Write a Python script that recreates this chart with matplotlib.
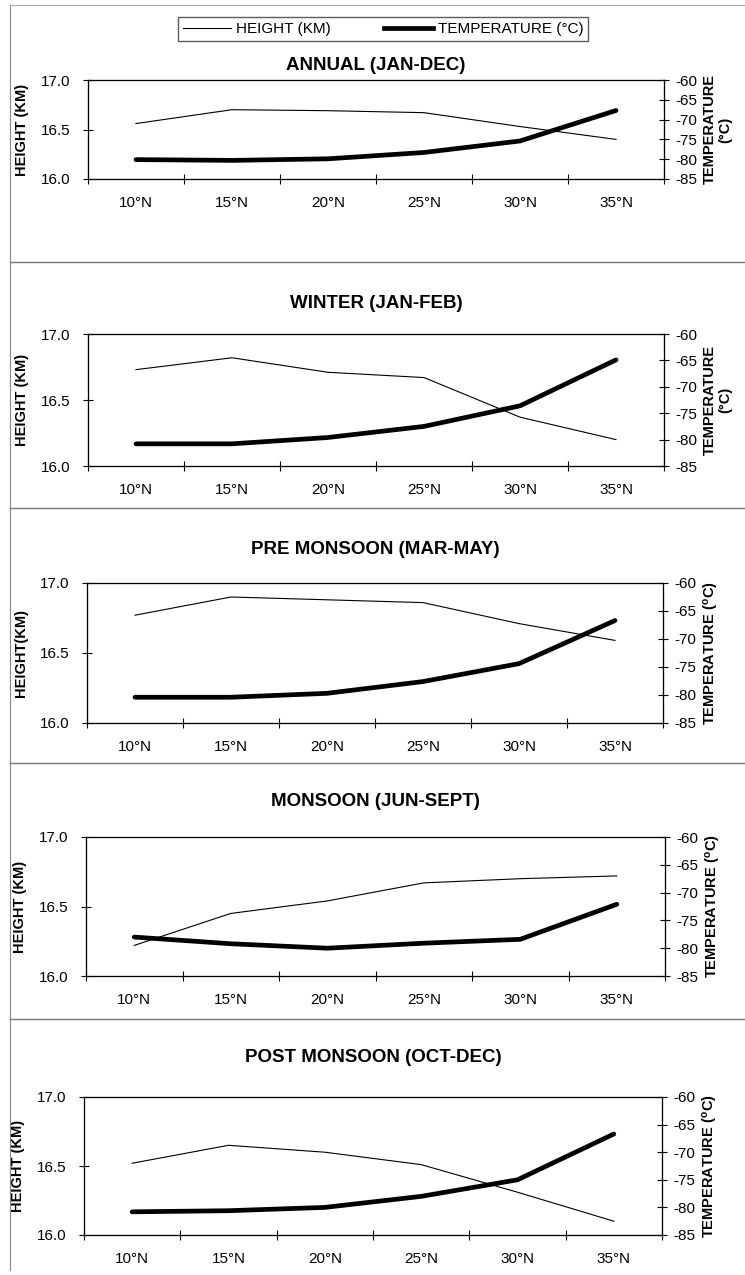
import matplotlib
matplotlib.use("Agg")
import matplotlib.pyplot as plt
from matplotlib.lines import Line2D
import numpy as np

# ---- data -------------------------------------------------------------
latitudes = ["10°N", "15°N", "20°N", "25°N", "30°N", "35°N"]

titles = [
    "ANNUAL (JAN-DEC)",
    "WINTER (JAN-FEB)",
    "PRE MONSOON (MAR-MAY)",
    "MONSOON (JUN-SEPT)",
    "POST MONSOON (OCT-DEC)",
]

height_annual = [16.56, 16.70, 16.69, 16.67, 16.53, 16.40]
height_winter = [16.73, 16.82, 16.71, 16.67, 16.37, 16.20]
height_premon = [16.77, 16.90, 16.88, 16.86, 16.71, 16.59]
height_monsoon = [16.22, 16.45, 16.54, 16.67, 16.70, 16.72]
height_postmon = [16.52, 16.65, 16.60, 16.51, 16.31, 16.10]

temp_annual = [-80.1, -80.3, -79.9, -78.3, -75.4, -67.7]
temp_winter = [-80.8, -80.8, -79.6, -77.5, -73.6, -64.9]
temp_premon = [-80.4, -80.4, -79.7, -77.6, -74.4, -66.7]
temp_monsoon = [-78.0, -79.2, -80.0, -79.1, -78.4, -72.1]
temp_postmon = [-80.8, -80.6, -80.0, -78.0, -75.0, -66.7]

heights = [height_annual, height_winter, height_premon, height_monsoon, height_postmon]
temps = [temp_annual, temp_winter, temp_premon, temp_monsoon, temp_postmon]

height_ticks = [16.0, 16.5, 17.0]
temp_ticks = [-85, -80, -75, -70, -65, -60]

left_labels = ["HEIGHT (KM)", "HEIGHT (KM)", "HEIGHT(KM)", "HEIGHT (KM)", "HEIGHT (KM)"]
right_labels = ["TEMPERATURE\n(°C)", "TEMPERATURE\n(°C)",
                "TEMPERATURE ($\\mathregular{^{o}}$C)",
                "TEMPERATURE ($\\mathregular{^{o}}$C)",
                "TEMPERATURE ($\\mathregular{^{o}}$C)"]

# ---- layout (pixels, from top) ---------------------------------------
W, H = 745, 1275
axes_tb = [(80, 179), (334, 466), (583, 723), (837, 976), (1097, 1235)]
axes_lr = [(88, 664), (88, 664), (87, 663), (86, 665), (84, 662)]
title_y = [65, 303, 550, 802, 1058]
separators = [262, 508, 763, 1019]

NARROW = ["Liberation Sans Narrow", "Liberation Sans", "DejaVu Sans"]
WIDE = ["Liberation Sans", "DejaVu Sans"]
plt.rcParams["font.family"] = NARROW

fig = plt.figure(figsize=(W / 100, H / 100), dpi=100)


def fx(px):
    return px / W


def fy(py):
    return 1 - py / H


for i in range(5):
    (top, bot), (lft, rgt) = axes_tb[i], axes_lr[i]
    ax = fig.add_axes([fx(lft), fy(bot), fx(rgt - lft), (bot - top) / H])
    x = np.arange(len(latitudes))

    ax.plot(x, heights[i], color="black", lw=0.8)
    ax.set_ylim(16.0, 17.0)
    ax.set_yticks(height_ticks)
    ax.set_yticklabels([f"{v:.1f}" for v in height_ticks], fontsize=11)
    ax.set_xlim(-0.5, 5.5)
    ax.set_xticks(np.arange(-0.5, 6, 1))
    ax.set_xticklabels([])
    ax.set_xticks(x, minor=True)
    ax.set_xticklabels(latitudes, minor=True, fontsize=11)
    ax.tick_params(axis="x", which="major", direction="inout", length=7, width=0.8)
    ax.tick_params(axis="x", which="minor", length=0, pad=12)
    ax.tick_params(axis="y", direction="inout", length=7, width=0.8, pad=9)
    ax.set_ylabel(left_labels[i], family=WIDE, fontweight="bold", fontsize=10.5, labelpad=9)
    for s in ax.spines.values():
        s.set_linewidth(0.9)
        s.set_color("#333333")

    ax2 = ax.twinx()
    ax2.plot(x, temps[i], color="black", lw=3.4, solid_capstyle="round")
    ax2.set_ylim(-85, -60)
    ax2.set_yticks(temp_ticks)
    ax2.set_yticklabels([str(v) for v in temp_ticks], fontsize=11)
    ax2.tick_params(axis="y", direction="inout", length=7, width=0.8, pad=5)
    ax2.set_ylabel(right_labels[i], family=WIDE, fontweight="bold", fontsize=10.5,
                   labelpad=4, linespacing=1.1)

    fig.text(fx((lft + rgt) / 2), fy(title_y[i]), titles[i], ha="center", va="center",
             fontsize=13.5, fontweight="bold")

# legend box at top
ax0 = fig.axes[0]
legend_handles = [Line2D([], [], color="black", lw=0.8),
                  Line2D([], [], color="black", lw=3.4)]
fig.legend(legend_handles, ["HEIGHT (KM)", "TEMPERATURE (°C)"], ncol=2,
           loc="center", bbox_to_anchor=(fx(383), fy(29)), fontsize=11,
           frameon=True, fancybox=False, edgecolor="#333333", handlelength=3.2,
           handletextpad=0.3, columnspacing=3.5, borderpad=0.3)

# panel borders from the scanned page
for y in separators:
    fig.add_artist(Line2D([fx(10), 1], [fy(y), fy(y)], color="#777777", lw=1))
fig.add_artist(Line2D([fx(10), 1], [fy(5), fy(5)], color="#aaaaaa", lw=0.8))
fig.add_artist(Line2D([fx(10), fx(10)], [fy(5), fy(1270)], color="#888888", lw=0.8))

fig.savefig("out.png", dpi=100)
